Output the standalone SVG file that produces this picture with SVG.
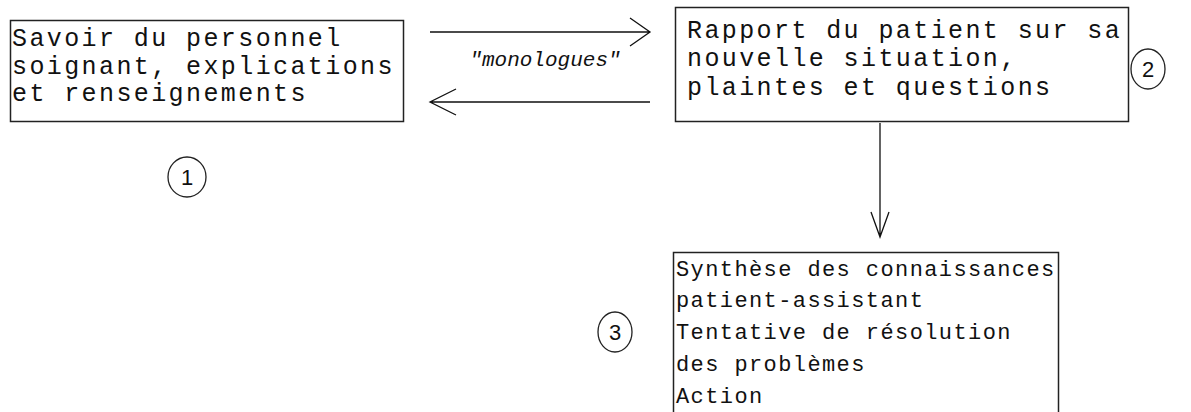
<svg xmlns="http://www.w3.org/2000/svg" width="1191" height="412" viewBox="0 0 1191 412">
<style>
.box{fill:#fff;stroke:#222;stroke-width:1.5}
.t{font-family:"Liberation Mono","Courier New",monospace;font-size:25px;letter-spacing:2.4px;fill:#111}
.t3{font-family:"Liberation Mono","Courier New",monospace;font-size:22px;letter-spacing:1.4px;fill:#111}
.lbl{font-family:"Liberation Mono","Courier New",monospace;font-size:21px;font-style:italic;fill:#111}
.c{fill:none;stroke:#222;stroke-width:1.3}
.n{font-family:"Liberation Sans",Arial,sans-serif;font-size:22px;fill:#111;text-anchor:middle}
.ln{fill:none;stroke:#111;stroke-width:1.3}
</style>
<rect width="1191" height="412" fill="#fff"/>
<g id="connectors">
<path class="ln" d="M430 32H650M630 18L650 32L630 46"/>
<path class="ln" d="M650 102H430M456 89L430 102L456 115"/>
<path class="ln" d="M880 123V237M871 212L880 237L889 212"/>
<text class="lbl" x="545" y="66" text-anchor="middle">"monologues"</text>
</g>
<g id="node1">
<rect class="box" x="10.5" y="20.5" width="393" height="101"/>
<text class="t" x="12" y="46">Savoir du personnel</text>
<text class="t" x="12" y="74">soignant, explications</text>
<text class="t" x="12" y="101">et renseignements</text>
</g>
<g id="node2">
<rect class="box" x="675.5" y="7.5" width="453" height="114"/>
<text class="t" x="687" y="38">Rapport du patient sur sa</text>
<text class="t" x="687" y="66">nouvelle situation,</text>
<text class="t" x="687" y="95">plaintes et questions</text>
</g>
<g id="node3">
<rect class="box" x="673.5" y="252.5" width="385" height="170"/>
<text class="t3" x="676" y="276">Synthèse des connaissances</text>
<text class="t3" x="676" y="307">patient-assistant</text>
<text class="t3" x="676" y="339">Tentative de résolution</text>
<text class="t3" x="676" y="371">des problèmes</text>
<text class="t3" x="676" y="403">Action</text>
</g>
<g id="badge1">
<ellipse class="c" cx="187" cy="177" rx="19" ry="20"/>
<text class="n" x="187" y="185">1</text>
</g>
<g id="badge2">
<ellipse class="c" cx="1148" cy="69" rx="17" ry="20"/>
<text class="n" x="1148" y="77">2</text>
</g>
<g id="badge3">
<ellipse class="c" cx="615" cy="332" rx="17" ry="20"/>
<text class="n" x="615" y="340">3</text>
</g>
</svg>
